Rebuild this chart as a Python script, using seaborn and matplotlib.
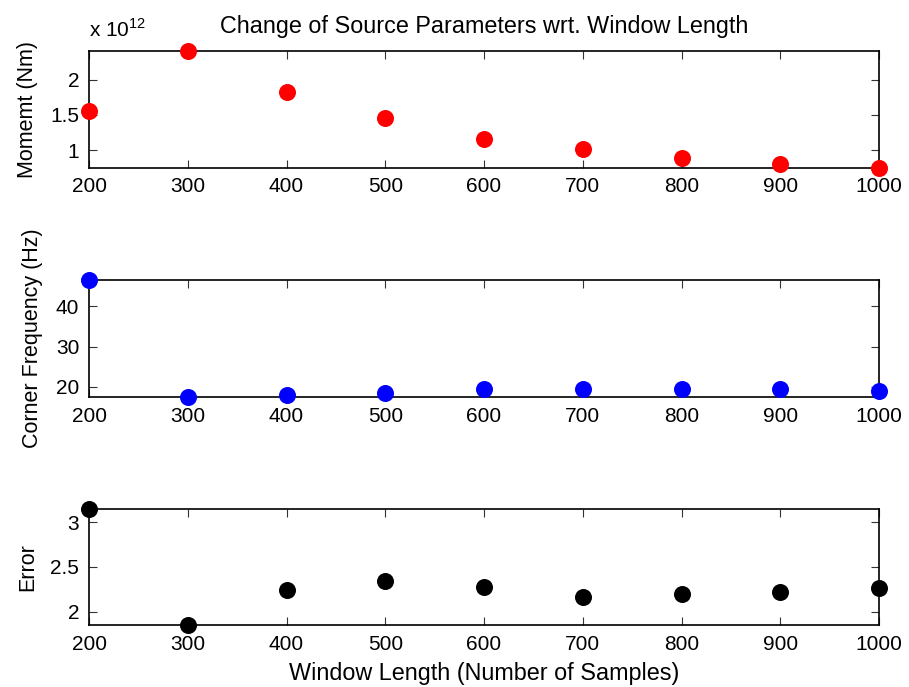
import matplotlib
matplotlib.use("Agg")
import matplotlib.pyplot as plt
from matplotlib.ticker import FuncFormatter
import numpy as np
import pandas as pd
import seaborn as sns

# Window lengths (number of samples)
window_length = [200, 300, 400, 500, 600, 700, 800, 900, 1000]

# Seismic moment (Nm)
moment = [1.56e12, 2.41e12, 1.82e12, 1.45e12, 1.15e12, 1.02e12, 0.89e12, 0.80e12, 0.75e12]

# Corner frequency (Hz)
corner_freq = [46.6, 17.5, 18.0, 18.6, 19.4, 19.4, 19.4, 19.4, 19.0]

# Fit error
fit_error = [3.145, 1.848, 2.24, 2.34, 2.28, 2.16, 2.20, 2.22, 2.26]

moment_ticks = [1e12, 1.5e12, 2e12]
freq_ticks = [20, 30, 40]
error_ticks = [2, 2.5, 3]
x_ticks = [200, 300, 400, 500, 600, 700, 800, 900, 1000]

sns.set_theme(style="white")
plt.rcParams["font.family"] = ["Liberation Sans", "DejaVu Sans"]
plt.rcParams["mathtext.fontset"] = "custom"
plt.rcParams["mathtext.rm"] = "Liberation Sans"
plt.rcParams["text.color"] = "black"
plt.rcParams["axes.labelcolor"] = "black"

df = pd.DataFrame({
    "window": window_length,
    "moment": moment,
    "fc": corner_freq,
    "err": fit_error,
})

fig = plt.figure(figsize=(9.09, 6.87), dpi=100)
fig.patch.set_facecolor("white")

left, width = 0.098, 0.869
rects = [
    (left, 0.756, width, 0.170),
    (left, 0.422, width, 0.171),
    (left, 0.0898, width, 0.169),
]
axes = [fig.add_axes(r) for r in rects]

specs = [
    ("moment", "#ff0000", "Momemt (Nm)", moment_ticks),
    ("fc", "#0000ff", "Corner Frequency (Hz)", freq_ticks),
    ("err", "#000000", "Error", error_ticks),
]

fs = 15
for ax, (col, color, ylab, yt) in zip(axes, specs):
    sns.scatterplot(data=df, x="window", y=col, ax=ax, color=color,
                    s=150, linewidth=0, clip_on=False, zorder=5)
    vals = df[col].to_numpy()
    ax.set_xlim(min(window_length), max(window_length))
    ax.set_ylim(vals.min(), vals.max())
    ax.set_xticks(x_ticks)
    ax.set_yticks(yt)
    for sp in ax.spines.values():
        sp.set_visible(True)
        sp.set_color("black")
        sp.set_linewidth(1.2)
    ax.tick_params(direction="in", length=6, width=0.8, color="#333333",
                   top=True, right=True, bottom=True, left=True,
                   labelsize=fs, pad=7, labelcolor="black")
    ax.set_xlabel("")
    ax.set_ylabel(ylab, fontsize=15.5, color="black", labelpad=9)
    ax.grid(False)

axes[0].yaxis.set_major_formatter(FuncFormatter(lambda v, p: f"{v / 1e12:g}"))
axes[1].yaxis.set_major_formatter(FuncFormatter(lambda v, p: f"{v:g}"))
axes[2].yaxis.set_major_formatter(FuncFormatter(lambda v, p: f"{v:g}"))

axes[0].text(0.0, 1.09, r"x 10$^{12}$", transform=axes[0].transAxes,
             fontsize=fs, ha="left", va="bottom", color="black")
axes[0].set_title("Change of Source Parameters wrt. Window Length",
                  fontsize=16.8, pad=13, color="black")
axes[2].set_xlabel("Window Length (Number of Samples)", fontsize=16.8,
                   labelpad=6, color="black")

fig.savefig("out.png", dpi=100, facecolor="white")
